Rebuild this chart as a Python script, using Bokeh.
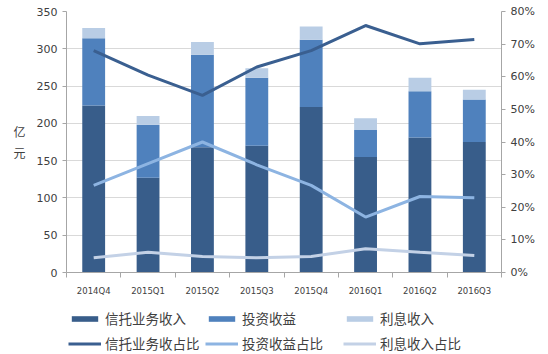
from bokeh.plotting import figure
from bokeh.layouts import column
from bokeh.models import (ColumnDataSource, Range1d, LinearAxis, FixedTicker, Legend,
                          LegendItem, NumeralTickFormatter)
from bokeh.embed import file_html
from bokeh.resources import INLINE

quarters = ["2014Q4", "2015Q1", "2015Q2", "2015Q3", "2015Q4", "2016Q1", "2016Q2", "2016Q3"]
trust_income = [224, 127, 168, 170, 222, 155, 181, 175]
invest_income = [90, 71, 124, 91, 90, 36, 62, 57]
interest_income = [14, 12, 17, 13, 18, 16, 18, 13]
trust_share = [0.68, 0.605, 0.543, 0.63, 0.68, 0.757, 0.701, 0.714]
invest_share = [0.267, 0.334, 0.40, 0.33, 0.267, 0.17, 0.233, 0.229]
interest_share = [0.045, 0.062, 0.049, 0.045, 0.049, 0.073, 0.062, 0.052]
left_ticks = [0, 50, 100, 150, 200, 250, 300, 350]
right_ticks = [0, 0.1, 0.2, 0.3, 0.4, 0.5, 0.6, 0.7, 0.8]
bar_names = ["信托业务收入", "投资收益", "利息收入"]
line_names = ["信托业务收占比", "投资收益占比", "利息收入占比"]

C_DARK = "#385D8A"
C_MID = "#4F81BD"
C_LIGHT = "#B9CDE5"
L_DARK = "#3A5F90"
L_MID = "#8DB4E2"
L_LIGHT = "#C3D1E6"
FONT = "Noto Sans CJK SC"

xs = [i + 0.5 for i in range(len(quarters))]
src = ColumnDataSource(dict(x=xs, trust=trust_income, invest=invest_income, interest=interest_income,
                            ts=trust_share, ivs=invest_share, irs=interest_share))

p = figure(output_backend="svg", toolbar_location=None,
           frame_width=435, frame_height=261,
           min_border_left=66, min_border_right=47, min_border_top=11, min_border_bottom=30,
           x_range=Range1d(0, len(quarters)), y_range=Range1d(0, 350))
p.extra_y_ranges = {"pct": Range1d(0, 0.8)}
p.outline_line_color = None
p.background_fill_color = "white"
p.border_fill_color = "white"

p.vbar_stack(["trust", "invest", "interest"], x="x", width=0.42, source=src,
             color=[C_DARK, C_MID, C_LIGHT], line_color=None)
p.line("x", "ts", source=src, y_range_name="pct", color=L_DARK, line_width=3)
p.line("x", "ivs", source=src, y_range_name="pct", color=L_MID, line_width=3)
p.line("x", "irs", source=src, y_range_name="pct", color=L_LIGHT, line_width=3)

p.xgrid.grid_line_color = None
p.ygrid.grid_line_color = "#D9D9D9"
p.ygrid.ticker = FixedTicker(ticks=left_ticks)

xa = p.xaxis[0]
xa.ticker = FixedTicker(ticks=xs, minor_ticks=list(range(len(quarters) + 1)))
xa.major_label_overrides = {x: q for x, q in zip(xs, quarters)}
xa.major_tick_line_color = None
xa.minor_tick_line_color = "#A6A6A6"
xa.minor_tick_in = 0
xa.minor_tick_out = 5
xa.axis_line_color = "#A6A6A6"
xa.major_label_text_font = "DejaVu Sans"
xa.major_label_text_font_size = "8.5px"
xa.major_label_text_color = "#404040"
xa.major_label_standoff = 7

ya = p.yaxis[0]
ya.ticker = FixedTicker(ticks=left_ticks)
ya.minor_tick_line_color = None
ya.major_tick_in = 0
ya.major_tick_out = 4
ya.major_tick_line_color = "#A6A6A6"
ya.axis_line_color = "#A6A6A6"
ya.major_label_text_font = "DejaVu Sans"
ya.major_label_text_font_size = "11px"
ya.major_label_text_color = "#404040"
ya.major_label_standoff = 5
ya.axis_label = "亿\n元"
ya.axis_label_text_font = FONT
ya.axis_label_text_font_style = "normal"
ya.axis_label_text_font_size = "12px"
ya.axis_label_text_color = "#404040"
ya.axis_label_standoff = 8
if hasattr(ya, "axis_label_orientation"):
    ya.axis_label_orientation = "horizontal"

ra = LinearAxis(y_range_name="pct", ticker=FixedTicker(ticks=right_ticks),
                formatter=NumeralTickFormatter(format="0%"))
ra.minor_tick_line_color = None
ra.major_tick_in = 0
ra.major_tick_out = 4
ra.major_tick_line_color = "#A6A6A6"
ra.axis_line_color = "#A6A6A6"
ra.major_label_text_font = "DejaVu Sans"
ra.major_label_text_font_size = "11px"
ra.major_label_text_color = "#404040"
ra.major_label_standoff = 5
p.add_layout(ra, "right")

# legend strip below the chart
lg = figure(output_backend="svg", toolbar_location=None, width=548, height=52,
            min_border=0, x_axis_location=None, y_axis_location=None,
            x_range=Range1d(0, 1), y_range=Range1d(0, 1))
lg.grid.visible = False
lg.outline_line_color = None
lg.border_fill_color = "white"
lg.background_fill_color = "white"
swatch = ColumnDataSource(dict(x=[-5, -4], top=[-5, -4], y=[-5, -4]))
bar_r = [lg.vbar(x="x", top="top", width=0.1, source=swatch, color=c, line_color=None)
         for c in [C_DARK, C_MID, C_LIGHT]]
line_r = [lg.line(x="x", y="y", source=swatch, color=c, line_width=3)
          for c in [L_DARK, L_MID, L_LIGHT]]

col_x = [2, 139, 277]
for i in range(3):
    leg = Legend(items=[LegendItem(label=bar_names[i], renderers=[bar_r[i]]),
                        LegendItem(label=line_names[i], renderers=[line_r[i]])])
    leg.label_text_font = FONT
    leg.label_text_font_size = "13.5px"
    leg.label_text_color = "#404040"
    leg.glyph_width = 33
    leg.glyph_height = 7
    leg.label_standoff = 4
    leg.label_height = 22
    leg.spacing = 3
    leg.padding = 0
    leg.margin = 0
    leg.border_line_color = None
    leg.background_fill_alpha = 0
    leg.location = (col_x[i], 0)
    lg.add_layout(leg, "center")

layout = column(p, lg, spacing=0)
open("out.html", "w").write(file_html(layout, INLINE))
